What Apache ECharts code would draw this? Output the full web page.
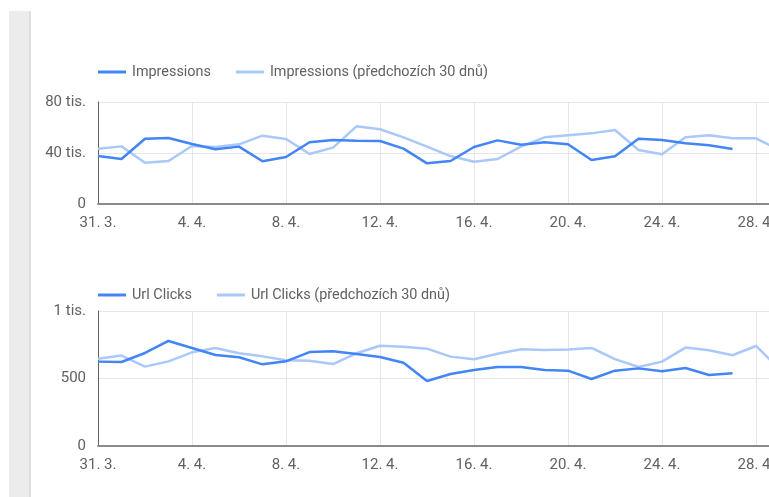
<!DOCTYPE html>
<html>
<head>
<meta charset="utf-8">
<script src="https://cdn.jsdelivr.net/npm/echarts@6/dist/echarts.min.js"></script>
<style>
  html, body { margin: 0; padding: 0; background: #fff; }
  #chart { width: 769px; height: 497px; }
</style>
</head>
<body>
<div id="chart"></div>
<script>
// Days shown on both charts (31. 3. – 29. 4.)
const categories = [
  '31. 3.', '1. 4.', '2. 4.', '3. 4.', '4. 4.', '5. 4.', '6. 4.', '7. 4.', '8. 4.', '9. 4.',
  '10. 4.', '11. 4.', '12. 4.', '13. 4.', '14. 4.', '15. 4.', '16. 4.', '17. 4.', '18. 4.', '19. 4.',
  '20. 4.', '21. 4.', '22. 4.', '23. 4.', '24. 4.', '25. 4.', '26. 4.', '27. 4.', '28. 4.', '29. 4.'
];

// Impressions, current period and the previous 30 days
const impressions = [
  37600, 35300, 51200, 51800, 47000, 42900, 45000, 33500, 36900, 48400,
  50200, 49700, 49400, 43400, 31900, 33700, 44700, 49900, 46500, 48400,
  46800, 34500, 37400, 51200, 50200, 47600, 46000, 43100
];
const impressionsPrev = [
  43400, 45200, 32400, 33700, 45500, 44700, 46800, 53600, 51000, 39200,
  44200, 60900, 58600, 52300, 45000, 37600, 33200, 35300, 45000, 52300,
  53900, 55400, 58000, 42400, 39000, 52300, 53900, 51500, 51500, 42100
];

// Url clicks, current period and the previous 30 days
const clicks = [
  625, 622, 689, 778, 726, 674, 657, 605, 627, 696,
  701, 681, 659, 617, 481, 533, 563, 585, 585, 563,
  558, 496, 558, 575, 553, 578, 526, 538
];
const clicksPrev = [
  647, 670, 588, 627, 694, 726, 687, 664, 635, 632,
  607, 687, 743, 736, 721, 662, 642, 684, 716, 711,
  714, 726, 644, 585, 625, 729, 709, 672, 741, 570
];

// Axis tick values
const impressionTicks = { max: 80000, step: 40000 };
const clickTicks = { max: 1000, step: 500 };

const DARK = '#4285f4';
const LIGHT = '#aac8fa';
const TEXT = '#616161';
const FONT = 'Roboto';

function tisLabel(v) {
  return v === 0 ? '0' : (v >= 1000 && v % 1000 === 0 ? (v / 1000) + ' tis.' : String(v));
}

function xAxis(gridIndex) {
  return {
    type: 'category',
    gridIndex,
    data: categories,
    boundaryGap: false,
    axisLine: { show: true, lineStyle: { color: '#8a8a8a', width: 2 } },
    axisTick: { show: false, interval: 3 },
    axisLabel: { interval: 3, color: TEXT, fontFamily: FONT, fontSize: 15, margin: 12 },
    splitLine: { show: true, interval: 3, lineStyle: { color: '#e6e6e6', width: 1 } }
  };
}

function yAxis(gridIndex, ticks) {
  return {
    type: 'value',
    gridIndex,
    min: 0,
    max: ticks.max,
    interval: ticks.step,
    axisLine: { show: true, lineStyle: { color: '#616161', width: 1 } },
    axisTick: { show: false },
    axisLabel: { color: TEXT, fontFamily: FONT, fontSize: 15, margin: 12, formatter: tisLabel },
    splitLine: { show: true, lineStyle: { color: '#e6e6e6', width: 1 } }
  };
}

function line(name, data, color, xi, yi, z) {
  return {
    name, type: 'line', data,
    xAxisIndex: xi, yAxisIndex: yi,
    symbol: 'none', smooth: false, z,
    lineStyle: { color, width: 2.5 },
    itemStyle: { color }
  };
}

function legend(top, names) {
  return {
    top, left: 98, icon: 'rect', itemWidth: 28, itemHeight: 3, itemGap: 25,
    padding: 0,
    textStyle: { color: TEXT, fontFamily: FONT, fontSize: 14.4, padding: [0, 0, 0, 1] },
    data: names
  };
}

const chart = echarts.init(document.getElementById('chart'), null, { renderer: 'canvas' });

chart.setOption({
  animation: false,
  backgroundColor: '#fff',
  graphic: [
    { type: 'rect', left: 9, top: 11, shape: { width: 22, height: 486 }, style: { fill: '#ececec' }, silent: true },
    { type: 'rect', left: 29, top: 11, shape: { width: 2, height: 486 }, style: { fill: '#dedede' }, silent: true }
  ],
  legend: [
    legend(65, ['Impressions', 'Impressions (předchozích 30 dnů)']),
    legend(288, ['Url Clicks', 'Url Clicks (předchozích 30 dnů)'])
  ],
  grid: [
    { left: 98, top: 102, width: 681.5, height: 102, containLabel: false, outerBoundsMode: 'none' },
    { left: 98, top: 311, width: 681.5, height: 135, containLabel: false, outerBoundsMode: 'none' }
  ],
  xAxis: [xAxis(0), xAxis(1)],
  yAxis: [yAxis(0, impressionTicks), yAxis(1, clickTicks)],
  series: [
    line('Impressions (předchozích 30 dnů)', impressionsPrev, LIGHT, 0, 0, 2),
    line('Impressions', impressions, DARK, 0, 0, 3),
    line('Url Clicks (předchozích 30 dnů)', clicksPrev, LIGHT, 1, 1, 2),
    line('Url Clicks', clicks, DARK, 1, 1, 3)
  ]
});
</script>
</body>
</html>
